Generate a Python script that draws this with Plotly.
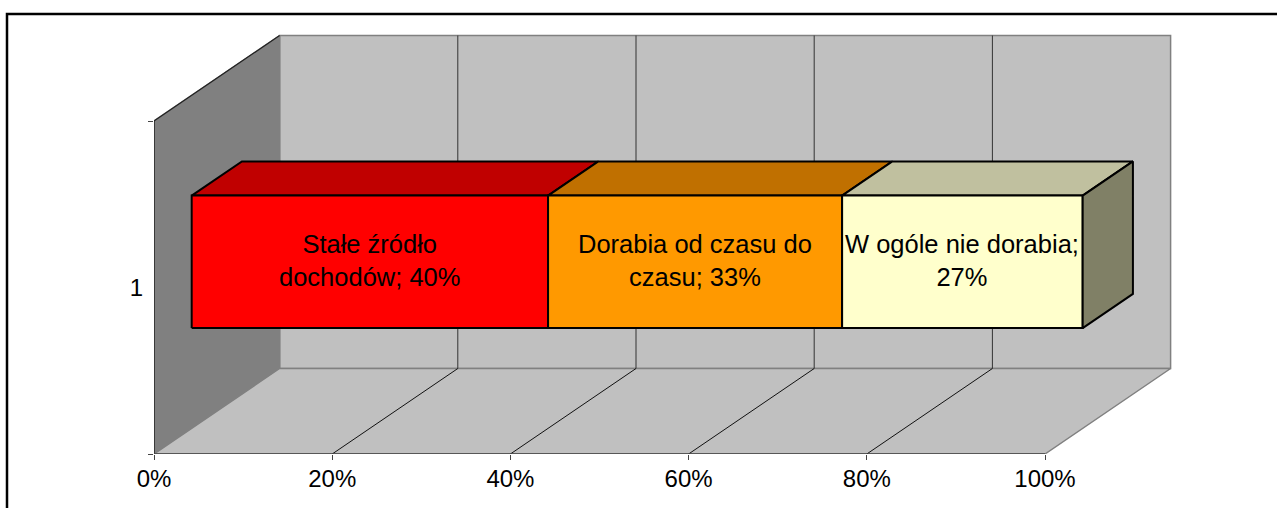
import plotly.graph_objects as go

# ---- data ----
categories = ["1"]
series_names = ["Stałe źródło dochodów", "Dorabia od czasu do czasu", "W ogóle nie dorabia"]
label_texts = ["Stałe źródło<br>dochodów; 40%", "Dorabia od czasu do<br>czasu; 33%", "W ogóle nie dorabia;<br>27%"]
values = [40, 33, 27]
x_tick_vals = [0, 20, 40, 60, 80, 100]
x_tick_text = ["0%", "20%", "40%", "60%", "80%", "100%"]

# ---- styling / geometry ----
front_colors = ["#FF0000", "#FF9900", "#FFFFCC"]
top_colors = ["#C00000", "#C07000", "#C0C09F"]
side_color = "#808066"
W, H = 1277, 508
ML, MB = 154, 54
PX_PER_PCT = 8.91
PX_PER_UNIT = 166.5
DX = 125.6 / PX_PER_PCT     # depth offset in % units
DY = 85.5 / PX_PER_UNIT     # depth offset in category units
D0, D1 = 0.3, 0.7           # bar depth span
HALF = 0.398                # bar half-height in category units
FONT = "Arial, 'Liberation Sans', sans-serif"


def P(pct, y, d):
    return pct + d * DX, y + d * DY


def poly(pts, fill, line="black", lw=2):
    xs, ys = [], []
    for p in pts + [pts[0]]:
        x, y = P(*p)
        xs.append(x)
        ys.append(y)
    return go.Scatter(x=xs, y=ys, mode="lines", fill="toself", fillcolor=fill,
                      line=dict(color=line, width=lw), hoverinfo="skip", showlegend=False)


def seg(p0, p1, color, lw=1):
    (x0, y0), (x1, y1) = P(*p0), P(*p1)
    return go.Scatter(x=[x0, x1], y=[y0, y1], mode="lines",
                      line=dict(color=color, width=lw), hoverinfo="skip", showlegend=False)


fig = go.Figure()
TOP = 2
# back wall
fig.add_trace(poly([(0, 0, 1), (100, 0, 1), (100, TOP, 1), (0, TOP, 1)], "#C0C0C0", "#808080", 1.5))
# left wall
fig.add_trace(poly([(0, 0, 0), (0, TOP, 0), (0, TOP, 1), (0, 0, 1)], "#808080", "#808080", 1.5))
# floor
fig.add_trace(poly([(0, 0, 0), (100, 0, 0), (100, 0, 1), (0, 0, 1)], "#C0C0C0", "#808080", 1.5))
# gridlines
for v in x_tick_vals[1:-1]:
    fig.add_trace(seg((v, 0, 1), (v, TOP, 1), "#333333", 1))
    fig.add_trace(seg((v, 0, 0), (v, 0, 1), "#111111", 1))
# axis edges
fig.add_trace(seg((0, 0, 0), (0, TOP, 0), "#222222", 1.5))
fig.add_trace(seg((0, TOP, 0), (0, TOP, 1), "#222222", 1.2))
fig.add_trace(seg((0, 0, 0), (100, 0, 0), "#444444", 1.5))

# bars
start = 0
yc = 1
for i, v in enumerate(values):
    s, e = start, start + v
    fig.add_trace(poly([(s, yc + HALF, D0), (e, yc + HALF, D0), (e, yc + HALF, D1), (s, yc + HALF, D1)], top_colors[i]))
    fig.add_trace(poly([(s, yc - HALF, D0), (e, yc - HALF, D0), (e, yc + HALF, D0), (s, yc + HALF, D0)], front_colors[i]))
    if i == len(values) - 1:
        fig.add_trace(poly([(e, yc - HALF, D0), (e, yc + HALF, D0), (e, yc + HALF, D1), (e, yc - HALF, D1)], side_color))
    lx, ly = P((s + e) / 2, yc, D0)
    fig.add_annotation(x=lx, y=ly + 0.01, text=label_texts[i], showarrow=False,
                       font=dict(family=FONT, size=25.5, color="black"), align="center")
    start = e

plot_w = W - ML
plot_h = H - MB
fig.update_layout(
    width=W, height=H, autosize=False,
    margin=dict(l=ML, r=0, t=0, b=MB, pad=0),
    paper_bgcolor="white", plot_bgcolor="white",
    showlegend=False, hovermode=False,
    font=dict(family=FONT, size=24, color="black"),
    xaxis=dict(range=[0, plot_w / PX_PER_PCT], tickmode="array", tickvals=x_tick_vals, ticktext=x_tick_text,
               ticks="outside", ticklen=5, tickcolor="#444444", showgrid=False, zeroline=False,
               showline=False, tickfont=dict(size=24), ticklabelstandoff=-2, fixedrange=True),
    yaxis=dict(range=[0, plot_h / PX_PER_UNIT], tickmode="array", tickvals=[1], ticktext=categories,
               ticks="", showgrid=False, zeroline=False, showline=False, tickfont=dict(size=24),
               minor=dict(tickmode="array", tickvals=[0, 2], ticks="outside", ticklen=5, tickcolor="#444444"),
               ticklabelstandoff=10, fixedrange=True),
    shapes=[dict(type="rect", xref="paper", yref="paper",
                 x0=(7 - ML) / plot_w, x1=(W + 20 - ML) / plot_w,
                 y0=(plot_h - (H + 20)) / plot_h, y1=(plot_h - 14) / plot_h,
                 line=dict(color="black", width=2.5), layer="above")],
)

fig.write_html("out.html", post_script="document.body.style.margin='0';document.body.style.overflow='hidden';",
               config={"displayModeBar": False})
